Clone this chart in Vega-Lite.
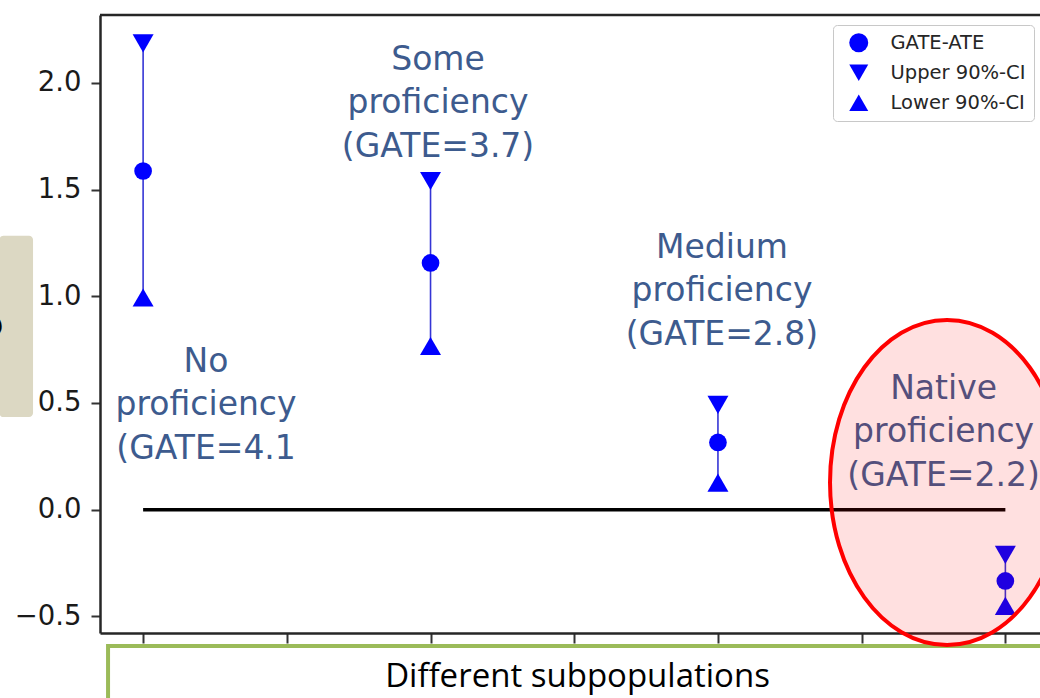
{
  "$schema": "https://vega.github.io/schema/vega-lite/v6.json",
  "width": 940,
  "height": 618,
  "autosize": {"type": "none"},
  "padding": {"left": 100, "top": 15, "right": 0, "bottom": 65},
  "background": "white",
  "config": {"view": {"stroke": null}},
  "resolve": {"axis": {"x": "independent", "y": "independent"}},
  "datasets": {
    "points": [
      {"pos": 0, "series": "GATE-ATE", "value": 1.587},
      {"pos": 0, "series": "Upper 90%-CI", "value": 2.185},
      {"pos": 0, "series": "Lower 90%-CI", "value": 0.994},
      {"pos": 2, "series": "GATE-ATE", "value": 1.156},
      {"pos": 2, "series": "Upper 90%-CI", "value": 1.540},
      {"pos": 2, "series": "Lower 90%-CI", "value": 0.767},
      {"pos": 4, "series": "GATE-ATE", "value": 0.315},
      {"pos": 4, "series": "Upper 90%-CI", "value": 0.491},
      {"pos": 4, "series": "Lower 90%-CI", "value": 0.127},
      {"pos": 6, "series": "GATE-ATE", "value": -0.334},
      {"pos": 6, "series": "Upper 90%-CI", "value": -0.212},
      {"pos": 6, "series": "Lower 90%-CI", "value": -0.451}
    ],
    "ci": [
      {"pos": 0, "lo": 0.994, "hi": 2.185},
      {"pos": 2, "lo": 0.767, "hi": 1.540},
      {"pos": 4, "lo": 0.127, "hi": 0.491},
      {"pos": 6, "lo": -0.451, "hi": -0.212}
    ],
    "labels": [
      {"lx": 0.438, "ly": 0.693, "text": "No\nproficiency\n(GATE=4.1"},
      {"lx": 2.052, "ly": 2.108, "text": "Some\nproficiency\n(GATE=3.7)"},
      {"lx": 4.028, "ly": 1.227, "text": "Medium\nproficiency\n(GATE=2.8)"},
      {"lx": 5.570, "ly": 0.566, "text": "Native\nproficiency\n(GATE=2.2)"}
    ],
    "one": [{}]
  },
  "layer": [
    {
      "data": {"name": "one"},
      "mark": {"type": "rect", "fill": "white", "stroke": "#9bbb59", "strokeWidth": 4},
      "encoding": {
        "x": {"datum": -0.244, "type": "quantitative", "axis": null},
        "x2": {"datum": 6.32},
        "y": {"datum": -0.639, "type": "quantitative", "axis": null},
        "y2": {"datum": -1.0}
      }
    },
    {
      "data": {"name": "one"},
      "mark": {"type": "text", "text": "Different subpopulations", "font": "Open Sans", "fontSize": 33, "color": "black", "align": "center", "baseline": "alphabetic"},
      "encoding": {
        "x": {"datum": 3.023, "type": "quantitative", "axis": null},
        "y": {"datum": -0.831, "type": "quantitative", "axis": null}
      }
    },
    {
      "data": {"name": "one"},
      "mark": {"type": "rect", "fill": "#dcd8c3", "cornerRadius": 4},
      "encoding": {
        "x": {"datum": -1.0, "type": "quantitative", "axis": null},
        "x2": {"datum": -0.766},
        "y": {"datum": 1.283, "type": "quantitative", "axis": null},
        "y2": {"datum": 0.434}
      }
    },
    {
      "data": {"name": "one"},
      "mark": {"type": "text", "text": "o", "font": "Lato", "fontWeight": "bold", "fontSize": 40, "color": "black", "align": "right", "baseline": "alphabetic"},
      "encoding": {
        "x": {"datum": -0.975, "type": "quantitative", "axis": null},
        "y": {"datum": 0.809, "type": "quantitative", "axis": null}
      }
    },
    {
      "data": {"name": "one"},
      "mark": {"type": "rule", "color": "#262626", "strokeWidth": 2.5},
      "encoding": {
        "x": {"datum": -0.3, "type": "quantitative", "axis": null},
        "x2": {"datum": 6.241},
        "y": {"datum": 2.318, "type": "quantitative", "axis": null}
      }
    },
    {
      "data": {"name": "one"},
      "mark": {"type": "rule", "color": "black", "strokeWidth": 3.5},
      "encoding": {
        "x": {"datum": 0, "type": "quantitative", "axis": null},
        "x2": {"datum": 6},
        "y": {"datum": 0, "type": "quantitative", "axis": null}
      }
    },
    {
      "data": {"name": "ci"},
      "mark": {"type": "rule", "color": "#3535d5", "strokeWidth": 1.6},
      "encoding": {
        "x": {
          "field": "pos", "type": "quantitative",
          "scale": {"domain": [-0.3, 6.241], "nice": false, "zero": false},
          "axis": {"orient": "bottom", "values": [0, 1, 2, 3, 4, 5, 6], "labels": false, "title": null, "grid": false, "tickSize": 10, "tickWidth": 2, "tickColor": "#333333", "domainColor": "#262626", "domainWidth": 2.5}
        },
        "y": {
          "field": "lo", "type": "quantitative",
          "scale": {"domain": [-0.578, 2.318], "nice": false, "zero": false},
          "axis": {"orient": "left", "values": [-0.5, 0, 0.5, 1, 1.5, 2], "format": ".1f", "title": null, "grid": false, "tickSize": 9, "tickWidth": 2, "tickColor": "#333333", "labelFont": "DejaVu Sans", "labelFontSize": 27.5, "labelColor": "#1a1a1a", "labelPadding": 10, "domainColor": "#262626", "domainWidth": 2.5}
        },
        "y2": {"field": "hi"}
      }
    },
    {
      "data": {"name": "points"},
      "transform": [{"filter": "datum.series === 'GATE-ATE'"}],
      "mark": {"type": "point", "filled": true, "shape": "circle", "size": 314, "color": "blue", "opacity": 1},
      "encoding": {
        "x": {"field": "pos", "type": "quantitative", "axis": null},
        "y": {"field": "value", "type": "quantitative", "axis": null}
      }
    },
    {
      "data": {"name": "points"},
      "transform": [{"filter": "datum.series !== 'GATE-ATE'"}],
      "mark": {"type": "point", "filled": true, "size": 440, "color": "blue", "opacity": 1},
      "encoding": {
        "x": {"field": "pos", "type": "quantitative", "axis": null},
        "y": {"field": "value", "type": "quantitative", "axis": null},
        "shape": {
          "field": "series", "type": "nominal",
          "scale": {"domain": ["GATE-ATE", "Upper 90%-CI", "Lower 90%-CI"], "range": ["circle", "triangle-down", "triangle-up"]},
          "legend": {
            "orient": "none", "legendX": 733, "legendY": 10, "title": null,
            "fillColor": "white", "strokeColor": "#c8c8c8", "cornerRadius": 4, "padding": 8,
            "labelFont": "DejaVu Sans", "labelFontSize": 19.5, "labelColor": "#262626",
            "symbolSize": 360, "symbolFillColor": "blue", "symbolStrokeColor": "blue", "symbolStrokeWidth": 0,
            "rowPadding": 9, "labelOffset": 22, "symbolOffset": 8
          }
        }
      }
    },
    {
      "data": {"name": "labels"},
      "mark": {"type": "text", "font": "DejaVu Sans", "fontSize": 33, "color": "#3d5b8e", "lineBreak": "\n", "lineHeight": 43.5, "align": "center", "baseline": "middle"},
      "encoding": {
        "x": {"field": "lx", "type": "quantitative", "axis": null},
        "y": {"field": "ly", "type": "quantitative", "axis": null},
        "text": {"field": "text"}
      }
    },
    {
      "data": {"name": "one"},
      "mark": {
        "type": "point",
        "shape": "M0,-1C0.3977,-1,0.72,-0.5523,0.72,0C0.72,0.5523,0.3977,1,0,1C-0.3977,1,-0.72,0.5523,-0.72,0C-0.72,-0.5523,-0.3977,-1,0,-1Z",
        "size": 105625, "filled": true, "fill": "#ff0000", "fillOpacity": 0.12, "stroke": "#ff0000", "strokeWidth": 4, "strokeOpacity": 1, "opacity": 1
      },
      "encoding": {
        "x": {"datum": 5.594, "type": "quantitative", "axis": null},
        "y": {"datum": 0.1275, "type": "quantitative", "axis": null}
      }
    }
  ]
}
